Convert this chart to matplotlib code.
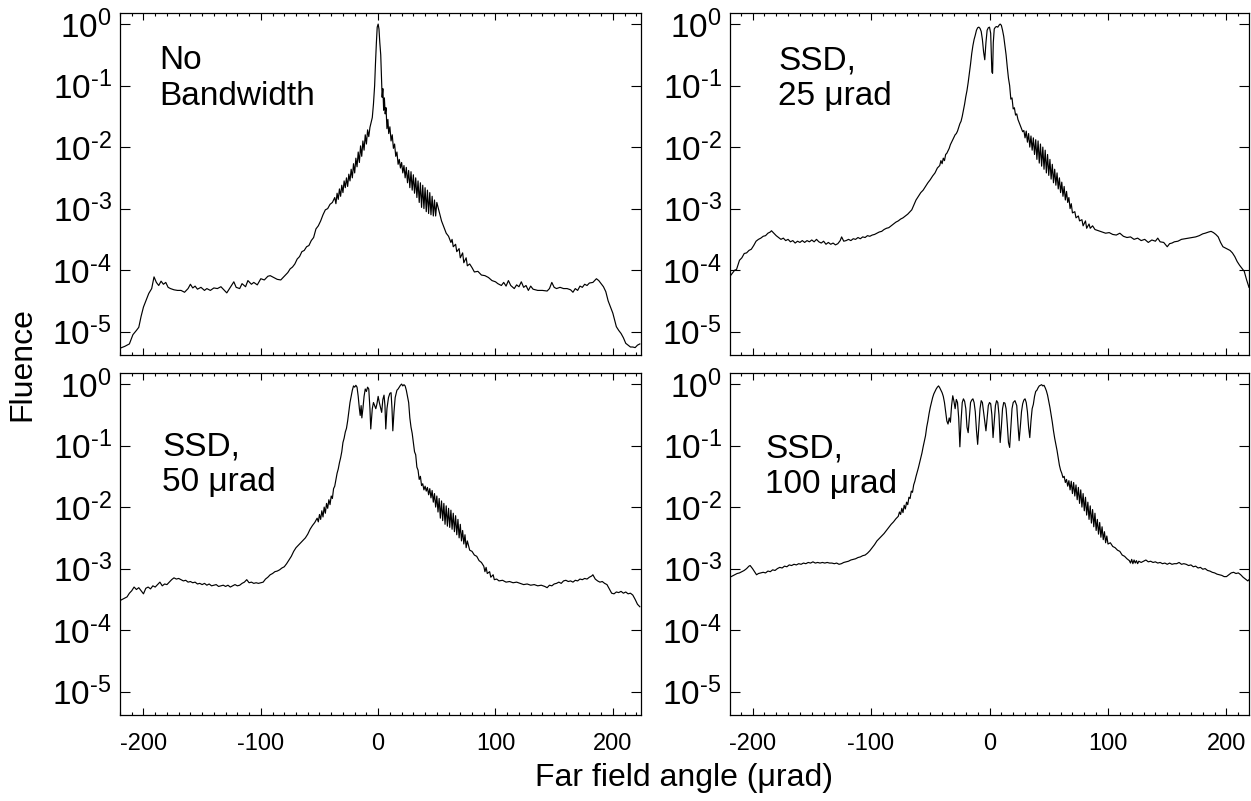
import matplotlib
matplotlib.use("Agg")
import matplotlib.pyplot as plt
import matplotlib.ticker as ticker
import numpy as np

plt.rcParams['font.family'] = ['Liberation Sans', 'DejaVu Sans']
plt.rcParams['mathtext.fontset'] = 'custom'
plt.rcParams['mathtext.rm'] = 'Liberation Sans'
plt.rcParams['axes.unicode_minus'] = False

# (far field angle in urad, log10 fluence)
no_bandwidth = [
    (-220, -5.27), (-216, -5.24), (-212, -5.20), (-209, -5.05), (-206, -4.98), (-204, -4.93),
    (-202, -4.75), (-200, -4.60), (-198, -4.50), (-195.5, -4.38), (-193, -4.30), (-191, -4.11),
    (-189, -4.20), (-187, -4.25), (-185, -4.18), (-183, -4.23), (-181, -4.20), (-179, -4.28),
    (-177, -4.30), (-174, -4.32), (-171, -4.33), (-168, -4.33), (-165, -4.36), (-162, -4.30),
    (-160, -4.23), (-158, -4.29), (-156, -4.26), (-154, -4.31), (-151, -4.28), (-148, -4.33),
    (-146, -4.30), (-143, -4.33), (-140, -4.29), (-137, -4.30), (-134, -4.27), (-131, -4.33),
    (-129, -4.37), (-126, -4.28), (-123, -4.19), (-121, -4.28), (-118, -4.30), (-116, -4.22),
    (-113, -4.27), (-111, -4.17), (-108, -4.23), (-106, -4.20), (-103, -4.24), (-100, -4.14),
    (-97, -4.16), (-94, -4.10), (-92, -4.09), (-89, -4.12), (-86, -4.15), (-83, -4.16),
    (-80, -4.10), (-77, -4.04), (-75, -3.98), (-73, -3.95), (-71, -3.90), (-69, -3.82),
    (-67, -3.78), (-65, -3.70), (-63, -3.68), (-61, -3.62), (-59, -3.60), (-57, -3.52),
    (-55, -3.47), (-53, -3.33), (-51, -3.28), (-49, -3.20), (-47, -3.10), (-45, -3.02),
    (-43, -3.00), (-41, -2.93), (-39, -2.90), (-37, -2.82), (-36, -2.92), (-35, -2.75),
    (-34, -2.85), (-33, -2.68), (-32, -2.80), (-31, -2.62), (-30, -2.74), (-29, -2.55),
    (-28, -2.66), (-27, -2.50), (-26, -2.64), (-25, -2.44), (-24, -2.55), (-23, -2.36),
    (-22, -2.50), (-21, -2.27), (-20, -2.42), (-19, -2.18), (-18, -2.32), (-17, -2.08),
    (-16, -2.25), (-15, -1.98), (-14, -2.15), (-13, -1.90), (-12, -2.05), (-11, -1.80),
    (-10, -1.95), (-9, -1.72), (-8, -1.83), (-7, -1.68), (-6, -1.60), (-5, -1.52),
    (-4, -1.30), (-3, -1.00), (-2.3, -0.65), (-1.5, -0.30), (-0.8, -0.05), (0, 0.0),
    (0.7, -0.08), (1.4, -0.30), (2.2, -0.50), (2.9, -0.90), (3.4, -1.19), (4, -1.05),
    (4.7, -1.40), (5.3, -1.20), (6, -1.46), (6.7, -1.36), (7.5, -1.70), (8.3, -1.55),
    (9, -1.78), (10, -1.67), (11, -1.90), (12, -1.80), (13, -2.02), (14, -1.95),
    (15, -2.15), (16, -2.08), (17, -2.28), (18, -2.20), (19, -2.34), (20, -2.25),
    (21, -2.42), (22, -2.30), (23, -2.50), (24, -2.33), (25, -2.58), (26, -2.38),
    (27, -2.66), (28, -2.40), (29, -2.70), (30, -2.45), (31, -2.75), (32, -2.50),
    (33, -2.82), (34, -2.55), (35, -2.90), (36, -2.58), (37, -2.98), (38, -2.62),
    (39, -3.00), (40, -2.66), (41, -3.05), (42, -2.70), (43, -3.08), (44, -2.74),
    (45, -3.10), (46, -2.80), (47, -3.12), (48, -2.86), (49, -3.12), (50, -2.90),
    (52, -3.05), (54, -3.20), (56, -3.30), (58, -3.40), (60, -3.45), (62, -3.55),
    (63, -3.50), (64, -3.62), (66, -3.58), (67, -3.70), (69, -3.65), (70, -3.80),
    (72, -3.72), (73, -3.88), (75, -3.80), (76, -3.93), (78, -3.90), (80, -3.96),
    (82, -4.03), (85, -4.02), (88, -4.08), (91, -4.09), (94, -4.12), (97, -4.17),
    (100, -4.19), (102, -4.22), (105, -4.25), (107, -4.20), (109, -4.26), (111, -4.17),
    (113, -4.25), (116, -4.30), (118, -4.24), (120, -4.27), (122, -4.19), (124, -4.28),
    (126, -4.25), (128, -4.33), (130, -4.26), (132, -4.31), (136, -4.33), (140, -4.33),
    (144, -4.34), (146, -4.30), (148, -4.20), (150, -4.28), (152, -4.30), (155, -4.28),
    (158, -4.30), (161, -4.30), (164, -4.32), (166, -4.36), (168, -4.30), (170, -4.33),
    (172, -4.26), (174, -4.28), (176, -4.23), (178, -4.25), (180, -4.21), (183, -4.20),
    (186, -4.14), (188, -4.17), (190, -4.22), (192, -4.27), (194, -4.35), (196, -4.50),
    (198, -4.60), (200, -4.70), (202, -4.85), (203, -4.92), (205, -4.98), (207, -5.03),
    (209, -5.10), (211, -5.19), (213, -5.22), (215, -5.25), (217, -5.25), (219, -5.26),
    (221, -5.22), (223, -5.20),
]

ssd_25 = [
    (-219, -4.10), (-217, -4.05), (-215, -4.00), (-213.5, -3.99), (-211, -3.84), (-209, -3.80),
    (-207, -3.73), (-205, -3.72), (-203, -3.68), (-201, -3.66), (-199, -3.60), (-197, -3.53),
    (-195, -3.50), (-193, -3.48), (-191, -3.45), (-189, -3.44), (-187, -3.40), (-185, -3.38),
    (-184, -3.36), (-182, -3.40), (-180, -3.44), (-178, -3.47), (-176, -3.50), (-174, -3.48),
    (-172, -3.52), (-170, -3.50), (-168, -3.54), (-166, -3.52), (-164, -3.56), (-162, -3.53),
    (-160, -3.55), (-158, -3.52), (-156, -3.55), (-154, -3.52), (-152, -3.54), (-150, -3.51),
    (-148, -3.54), (-146, -3.50), (-144, -3.54), (-142, -3.56), (-140, -3.53), (-138, -3.58),
    (-136, -3.55), (-134, -3.58), (-132, -3.56), (-130, -3.59), (-128, -3.57), (-126, -3.52),
    (-124.8, -3.46), (-123, -3.53), (-121, -3.52), (-119, -3.50), (-117, -3.52), (-115, -3.49),
    (-113, -3.50), (-111, -3.47), (-109, -3.49), (-107, -3.46), (-105, -3.47), (-103, -3.44),
    (-101, -3.45), (-99, -3.43), (-97, -3.42), (-95, -3.40), (-93, -3.38), (-91, -3.37),
    (-89, -3.34), (-87, -3.32), (-85, -3.31), (-83, -3.28), (-81, -3.25), (-79, -3.22),
    (-77, -3.20), (-75, -3.17), (-73, -3.15), (-71, -3.12), (-69, -3.09), (-67, -3.05),
    (-65.6, -3.02), (-64, -2.95), (-62, -2.86), (-60, -2.80), (-58, -2.74), (-56, -2.70),
    (-54, -2.64), (-52, -2.58), (-50, -2.53), (-48, -2.47), (-46, -2.42), (-44, -2.34),
    (-42, -2.30), (-41, -2.22), (-40, -2.27), (-39, -2.18), (-38, -2.22), (-37, -2.12),
    (-36, -2.10), (-35, -2.06), (-34, -2.02), (-33, -1.96), (-32, -1.92), (-31, -1.88),
    (-30, -1.84), (-29, -1.80), (-28, -1.78), (-27, -1.74), (-26, -1.68), (-25, -1.62),
    (-24, -1.58), (-23, -1.50), (-22, -1.40), (-21, -1.30), (-20, -1.18), (-19, -1.08),
    (-18, -0.95), (-17, -0.80), (-16, -0.65), (-15, -0.48), (-14, -0.35), (-13, -0.25),
    (-12, -0.18), (-11, -0.10), (-10, -0.06), (-9, -0.05), (-8, -0.07), (-7, -0.12),
    (-6, -0.25), (-5, -0.45), (-4, -0.58), (-3, -0.30), (-2, -0.10), (-1, -0.06),
    (0, -0.05), (1, -0.15), (2, -0.78), (2.6, -0.80), (3.2, -0.30), (4, -0.08),
    (5, -0.05), (6, -0.04), (7, -0.05), (8, -0.02), (9, 0.0), (10, -0.02),
    (11, -0.10), (12, -0.20), (13, -0.35), (14, -0.50), (15, -0.70), (16, -0.88),
    (17, -1.00), (18, -1.22), (19, -1.20), (20, -1.38), (21, -1.36), (22, -1.48),
    (23, -1.46), (24, -1.55), (25, -1.60), (26, -1.65), (27, -1.70), (28, -1.75),
    (29, -1.73), (30, -1.85), (31, -1.74), (32, -1.92), (33, -1.78), (34, -2.00),
    (35, -1.82), (36, -2.05), (37, -1.85), (38, -2.12), (39, -1.88), (40, -2.20),
    (41, -1.90), (42, -2.26), (43, -1.95), (44, -2.31), (45, -2.00), (46, -2.36),
    (47, -2.05), (48, -2.42), (49, -2.12), (50, -2.46), (51, -2.20), (52, -2.52),
    (53, -2.28), (54, -2.58), (55, -2.36), (56, -2.62), (57, -2.42), (58, -2.68),
    (59, -2.50), (60, -2.74), (61, -2.57), (62, -2.80), (63, -2.64), (64, -2.86),
    (65, -2.72), (66, -2.90), (67, -2.82), (68, -3.00), (69, -2.92), (70, -3.07),
    (72, -3.05), (73, -3.15), (75, -3.12), (76, -3.20), (78, -3.18), (79, -3.28),
    (81, -3.20), (82, -3.32), (84, -3.25), (85, -3.32), (87, -3.28), (89, -3.34),
    (92, -3.36), (95, -3.38), (98, -3.40), (101, -3.39), (104, -3.42), (107, -3.43),
    (110, -3.40), (113, -3.45), (116, -3.47), (119, -3.46), (122, -3.50), (125, -3.48),
    (128, -3.52), (131, -3.50), (134, -3.55), (137, -3.51), (140, -3.53), (142, -3.48),
    (144, -3.54), (147, -3.55), (150, -3.62), (152, -3.57), (154, -3.56), (156, -3.54),
    (159, -3.53), (162, -3.50), (165, -3.49), (168, -3.48), (171, -3.47), (174, -3.46),
    (177, -3.44), (180, -3.41), (182, -3.40), (185, -3.38), (187, -3.37), (189, -3.39),
    (191, -3.42), (193, -3.46), (195, -3.55), (197, -3.62), (199, -3.64), (201, -3.66),
    (203, -3.68), (205, -3.72), (207, -3.78), (209, -3.86), (211, -3.92), (213, -3.97),
    (215, -4.02), (217, -4.16), (219, -4.28),
]

ssd_50 = [
    (-220, -3.52), (-218, -3.50), (-216, -3.48), (-214, -3.46), (-212, -3.40), (-210, -3.36),
    (-208, -3.30), (-206, -3.34), (-204, -3.31), (-202, -3.36), (-200, -3.41), (-198, -3.32),
    (-196, -3.30), (-194, -3.33), (-192, -3.28), (-190, -3.30), (-188, -3.26), (-186, -3.22),
    (-184, -3.28), (-182, -3.25), (-180, -3.26), (-178, -3.22), (-176, -3.18), (-174, -3.15),
    (-172, -3.17), (-170, -3.16), (-168, -3.18), (-166, -3.20), (-164, -3.19), (-162, -3.22),
    (-160, -3.21), (-158, -3.23), (-156, -3.22), (-154, -3.25), (-152, -3.24), (-150, -3.26),
    (-148, -3.24), (-146, -3.27), (-144, -3.25), (-142, -3.28), (-140, -3.27), (-138, -3.26),
    (-136, -3.29), (-134, -3.28), (-132, -3.27), (-130, -3.29), (-128, -3.27), (-126, -3.30),
    (-124, -3.28), (-122, -3.26), (-120, -3.28), (-118, -3.27), (-116, -3.24), (-114, -3.22),
    (-112, -3.18), (-110, -3.23), (-108, -3.22), (-106, -3.24), (-104, -3.23), (-102, -3.24),
    (-100, -3.23), (-98, -3.22), (-96, -3.17), (-94, -3.14), (-92, -3.10), (-90, -3.08),
    (-88, -3.05), (-86, -3.04), (-84, -3.02), (-82, -2.99), (-80, -2.97), (-78, -2.92),
    (-76, -2.86), (-74, -2.80), (-72, -2.72), (-70, -2.66), (-68, -2.62), (-66, -2.58),
    (-64, -2.54), (-62, -2.50), (-60, -2.44), (-58, -2.36), (-56, -2.30), (-54, -2.25),
    (-52, -2.18), (-51, -2.24), (-50, -2.12), (-49, -2.20), (-48, -2.06), (-47, -2.16),
    (-46, -2.00), (-45, -2.10), (-44, -1.94), (-43, -2.02), (-42, -1.88), (-41, -1.96),
    (-40, -1.82), (-39, -1.86), (-38, -1.70), (-37, -1.66), (-36, -1.55), (-35, -1.45),
    (-34, -1.38), (-33, -1.28), (-32, -1.20), (-31, -1.10), (-30, -0.95), (-29, -0.88),
    (-28, -0.78), (-27, -0.72), (-26, -0.60), (-25, -0.45), (-24, -0.30), (-23, -0.20),
    (-22, -0.10), (-21, -0.03), (-20, -0.05), (-19, -0.02), (-18, -0.05), (-17, -0.20),
    (-16, -0.40), (-15.3, -0.51), (-14.5, -0.35), (-13.9, -0.55), (-13, -0.40), (-12, -0.20),
    (-11, -0.08), (-10, -0.12), (-9, -0.05), (-8, -0.08), (-7, -0.40), (-6.3, -0.73),
    (-5, -0.40), (-4, -0.30), (-3, -0.35), (-2, -0.40), (-1, -0.32), (0, -0.20),
    (1, -0.30), (2, -0.38), (3, -0.46), (4, -0.25), (5, -0.18), (5.8, -0.35),
    (6.5, -0.73), (7.5, -0.40), (8.8, -0.22), (10, -0.15), (11, -0.14), (11.8, -0.40),
    (12.5, -0.76), (13.5, -0.45), (14.5, -0.22), (16, -0.10), (17, -0.08), (18, -0.05),
    (19, -0.02), (20, 0.0), (21, -0.03), (22, -0.01), (23, -0.03), (24, -0.10),
    (25, -0.20), (26, -0.30), (27, -0.55), (28, -0.70), (29, -0.80), (30, -0.95),
    (31, -1.10), (32, -1.15), (33, -1.35), (34, -1.40), (35, -1.55), (36, -1.50),
    (37, -1.65), (38, -1.62), (39, -1.72), (40, -1.66), (41, -1.74), (42, -1.68),
    (43, -1.80), (44, -1.70), (45, -1.85), (46, -1.73), (47, -1.92), (48, -1.78),
    (49, -2.00), (50, -1.82), (51, -2.08), (52, -1.86), (53, -2.18), (54, -1.90),
    (55, -2.22), (56, -1.94), (57, -2.28), (58, -1.98), (59, -2.31), (60, -2.02),
    (61, -2.33), (62, -2.05), (63, -2.36), (64, -2.10), (65, -2.40), (66, -2.14),
    (67, -2.45), (68, -2.20), (69, -2.50), (70, -2.28), (71, -2.55), (72, -2.38),
    (73, -2.60), (74, -2.45), (75, -2.66), (76, -2.55), (78, -2.70), (80, -2.72),
    (82, -2.78), (84, -2.80), (86, -2.87), (88, -2.90), (90, -2.96), (91, -3.05),
    (92, -2.98), (93, -3.08), (95, -3.05), (96, -3.14), (98, -3.10), (99, -3.18),
    (101, -3.17), (103, -3.20), (106, -3.19), (109, -3.22), (112, -3.21), (115, -3.23),
    (118, -3.22), (121, -3.24), (124, -3.26), (127, -3.25), (130, -3.27), (133, -3.26),
    (136, -3.28), (139, -3.27), (142, -3.29), (144, -3.31), (146, -3.27), (148, -3.28),
    (150, -3.25), (152, -3.24), (154, -3.22), (156, -3.24), (158, -3.20), (160, -3.19),
    (162, -3.21), (164, -3.20), (166, -3.22), (168, -3.19), (170, -3.20), (172, -3.17),
    (174, -3.18), (176, -3.16), (178, -3.17), (180, -3.14), (182, -3.12), (183, -3.10),
    (185, -3.17), (187, -3.20), (189, -3.22), (191, -3.21), (193, -3.24), (195, -3.26),
    (197, -3.33), (199, -3.40), (201, -3.41), (203, -3.38), (205, -3.39), (207, -3.37),
    (209, -3.40), (211, -3.38), (213, -3.41), (215, -3.40), (217, -3.43), (219, -3.50),
    (221, -3.58), (223, -3.62),
]

ssd_100 = [
    (-219, -3.14), (-217, -3.12), (-215, -3.10), (-213, -3.08), (-211, -3.07), (-209, -3.05),
    (-207, -3.03), (-205, -3.00), (-203, -2.96), (-202, -2.95), (-200, -3.00), (-198, -3.06),
    (-196.6, -3.10), (-195, -3.08), (-193, -3.07), (-191, -3.06), (-189, -3.07), (-187, -3.04),
    (-185, -3.05), (-183, -3.02), (-181, -3.03), (-179, -3.00), (-177, -2.98), (-175, -2.99),
    (-173, -2.96), (-171, -2.97), (-169, -2.94), (-167, -2.95), (-165, -2.93), (-163, -2.94),
    (-161, -2.92), (-159, -2.93), (-157, -2.91), (-155, -2.92), (-153, -2.90), (-151, -2.91),
    (-149, -2.89), (-147, -2.91), (-145, -2.90), (-143, -2.91), (-141, -2.90), (-139, -2.91),
    (-137, -2.90), (-135, -2.91), (-133, -2.91), (-131, -2.92), (-129, -2.91), (-127, -2.93),
    (-125, -2.92), (-123, -2.90), (-121, -2.89), (-119, -2.88), (-117, -2.86), (-115, -2.85),
    (-113, -2.84), (-111, -2.82), (-109, -2.81), (-107, -2.79), (-105, -2.78), (-103, -2.75),
    (-101, -2.71), (-99, -2.66), (-97, -2.61), (-95, -2.55), (-93, -2.51), (-91, -2.47),
    (-89, -2.43), (-87, -2.38), (-85, -2.33), (-83, -2.28), (-81, -2.24), (-79, -2.19),
    (-77, -2.15), (-76, -2.08), (-75, -2.12), (-74, -2.02), (-73, -2.09), (-72, -1.97),
    (-71, -2.03), (-70, -1.92), (-69, -1.96), (-68, -1.84), (-67, -1.86), (-66, -1.74),
    (-65, -1.76), (-64, -1.64), (-63, -1.58), (-62, -1.50), (-61, -1.43), (-60, -1.36),
    (-59, -1.28), (-58, -1.20), (-57, -1.12), (-56, -1.02), (-55, -0.93), (-54, -0.84),
    (-53, -0.70), (-52, -0.60), (-51, -0.48), (-50, -0.38), (-49, -0.30), (-48, -0.22),
    (-47, -0.16), (-46, -0.12), (-45, -0.08), (-44, -0.05), (-43, -0.03), (-42, -0.06),
    (-41, -0.10), (-40, -0.14), (-39, -0.20), (-38, -0.30), (-37, -0.45), (-36, -0.60),
    (-35, -0.65), (-34, -0.55), (-33, -0.62), (-32, -0.35), (-31, -0.19), (-30, -0.28),
    (-29, -0.40), (-28, -0.25), (-27, -0.30), (-26, -0.55), (-25, -1.02), (-24, -0.60),
    (-23, -0.30), (-22, -0.24), (-21, -0.28), (-20, -0.40), (-19, -0.70), (-18, -0.79),
    (-17, -0.55), (-16, -0.30), (-15, -0.26), (-14, -0.24), (-13, -0.30), (-12, -0.45),
    (-11, -0.75), (-10, -0.98), (-9, -0.70), (-8, -0.40), (-7, -0.27), (-6, -0.30),
    (-5, -0.45), (-4, -0.60), (-3, -0.76), (-2, -0.55), (-1, -0.35), (0, -0.30),
    (1, -0.32), (2, -0.50), (3, -0.87), (4, -0.60), (5, -0.35), (6, -0.27),
    (7, -0.30), (8, -0.50), (9, -0.95), (10, -0.70), (11, -0.40), (12, -0.30),
    (13, -0.31), (14, -0.40), (15, -0.65), (16, -0.95), (17, -1.03), (18, -0.70),
    (19, -0.40), (20, -0.30), (21.5, -0.27), (23, -0.35), (24, -0.65), (25, -0.92),
    (26, -0.70), (27, -0.45), (28, -0.32), (29, -0.26), (30, -0.24), (31, -0.30),
    (32, -0.45), (33, -0.70), (34, -0.87), (35, -0.60), (36, -0.40), (37, -0.33),
    (38, -0.20), (39, -0.12), (40, -0.10), (41, -0.06), (42, -0.03), (43, -0.02),
    (44, -0.01), (45, -0.03), (46, -0.02), (47, -0.06), (48, -0.11), (49, -0.18),
    (50, -0.28), (51, -0.38), (52, -0.50), (53, -0.62), (54, -0.76), (55, -0.88),
    (56, -0.98), (57, -1.08), (58, -1.20), (59, -1.32), (60, -1.40), (61, -1.45),
    (62, -1.52), (63, -1.50), (64, -1.60), (65, -1.55), (66, -1.66), (67, -1.57),
    (68, -1.72), (69, -1.58), (70, -1.78), (71, -1.60), (72, -1.82), (73, -1.64),
    (74, -1.88), (75, -1.68), (76, -1.94), (77, -1.72), (78, -2.00), (79, -1.78),
    (80, -2.06), (81, -1.84), (82, -2.13), (83, -1.92), (84, -2.20), (85, -1.98),
    (86, -2.26), (87, -2.04), (88, -2.32), (89, -2.10), (90, -2.38), (91, -2.20),
    (92, -2.44), (93, -2.25), (94, -2.49), (95, -2.32), (96, -2.53), (97, -2.40),
    (98, -2.58), (99, -2.47), (100, -2.60), (102, -2.58), (104, -2.64), (106, -2.66),
    (108, -2.70), (110, -2.72), (112, -2.78), (114, -2.80), (116, -2.84), (118, -2.87),
    (119, -2.91), (120, -2.85), (121, -2.92), (122, -2.86), (123, -2.91), (124, -2.87),
    (125, -2.92), (126, -2.88), (128, -2.90), (130, -2.88), (132, -2.86), (134, -2.89),
    (136, -2.88), (138, -2.90), (140, -2.89), (142, -2.91), (144, -2.90), (146, -2.92),
    (148, -2.91), (150, -2.93), (152, -2.91), (154, -2.93), (156, -2.92), (158, -2.92),
    (160, -2.90), (162, -2.93), (164, -2.92), (166, -2.93), (168, -2.95), (170, -2.94),
    (172, -2.97), (174, -2.96), (176, -2.99), (178, -2.98), (180, -3.01), (182, -3.00),
    (184, -3.03), (186, -3.04), (188, -3.06), (190, -3.07), (192, -3.09), (194, -3.10),
    (196, -3.11), (198, -3.13), (200, -3.13), (202, -3.10), (204, -3.07), (206, -3.06),
    (208, -3.08), (210, -3.07), (212, -3.10), (214, -3.14), (216, -3.17), (218, -3.20),
    (219, -3.18),
]

panel_labels = ["No\nBandwidth", "SSD,\n25 μrad", "SSD,\n50 μrad", "SSD,\n100 μrad"]
y_exponents = [0, -1, -2, -3, -4, -5]
x_ticks = [-200, -100, 0, 100, 200]

W, H = 1251, 801
fig = plt.figure(figsize=(W / 100, H / 100), dpi=100)

# axes boxes in pixels: left, top, width, height
boxes = [(120, 13, 521, 342), (730, 13, 519, 342), (120, 373, 521, 342), (730, 373, 519, 342)]
xlims = [(-220, 224), (-219, 219), (-220, 224), (-219, 219)]
# left edge and baseline of the second text line, in pixels
label_pos = [(159, 105), (778, 105), (162, 491), (765, 493)]
series = [no_bandwidth, ssd_25, ssd_50, ssd_100]

for i in range(4):
    l, t, w, h = boxes[i]
    ax = fig.add_axes([l / W, 1 - (t + h) / H, w / W, h / H])
    ang = np.array([p[0] for p in series[i]])
    logf = np.array([p[1] for p in series[i]])
    ax.plot(ang, 10.0 ** logf, color='black', lw=0.85)
    ax.set_yscale('log')
    ax.set_xlim(*xlims[i])
    ax.set_ylim(10 ** -5.38, 10 ** 0.18)

    ax.yaxis.set_major_locator(ticker.FixedLocator([10.0 ** e for e in y_exponents]))
    ax.yaxis.set_minor_locator(ticker.NullLocator())
    ax.set_yticklabels([r'$\mathregular{10^{\text{%d}}}$' % e for e in y_exponents])
    ax.xaxis.set_major_locator(ticker.FixedLocator(x_ticks))
    ax.xaxis.set_minor_locator(ticker.MultipleLocator(10))
    ax.tick_params(axis='y', which='major', direction='in', length=7, width=0.8,
                   left=True, right=True, labelsize=24, pad=6)
    ax.tick_params(axis='x', which='major', direction='in', length=5, width=0.8,
                   top=True, bottom=True, labelsize=17, pad=13)
    ax.tick_params(axis='x', which='minor', direction='in', length=2.5, width=0.8,
                   top=True, bottom=True)
    if i < 2:
        ax.tick_params(axis='x', labelbottom=False)
    for sp in ax.spines.values():
        sp.set_linewidth(0.9)

    lx, ly = label_pos[i]
    fig.text(lx / W, 1 - ly / H, panel_labels[i], fontsize=24, va='baseline',
             ha='left', linespacing=1.2)

fig.text(22 / W, 1 - 364 / H, "Fluence", rotation=90, fontsize=23, ha='center', va='center')
fig.text(684 / W, 1 - 778 / H, "Far field angle (μrad)", fontsize=23, ha='center', va='center')

fig.savefig("out.png", dpi=100)
